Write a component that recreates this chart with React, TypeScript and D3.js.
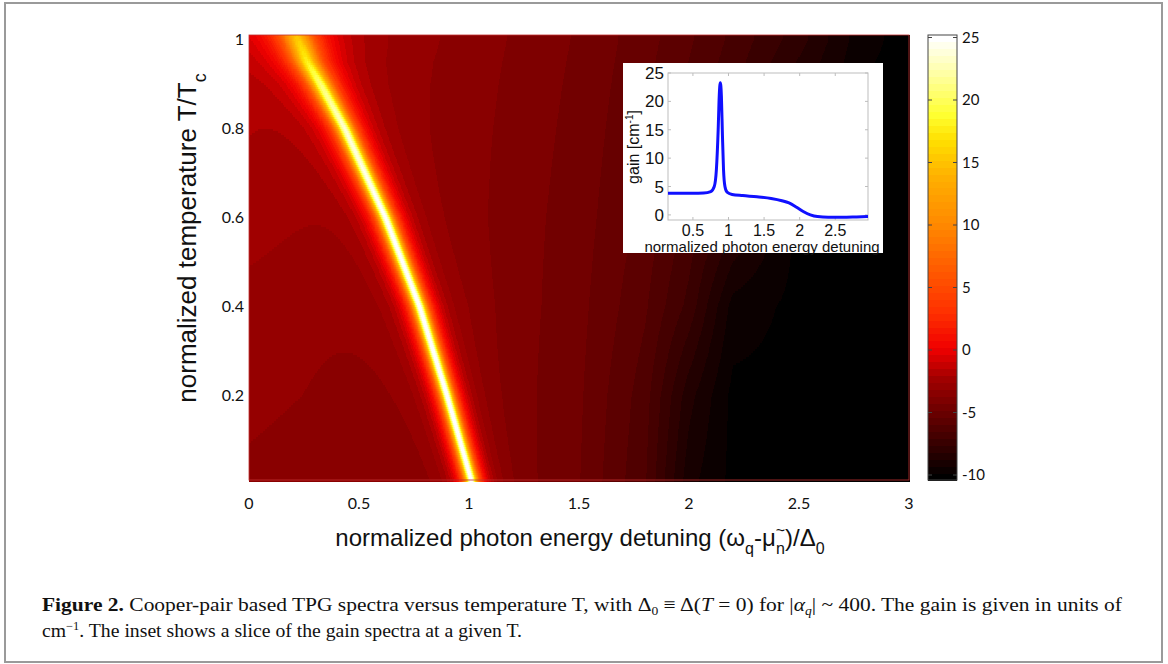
import React, { useEffect, useRef } from "react";
import * as d3 from "d3";

// main map axes
const xTicks = [0, 0.5, 1, 1.5, 2, 2.5, 3];
const yTicks = [0.2, 0.4, 0.6, 0.8, 1];
const cbTicks = [25, 20, 15, 10, 5, 0, -5, -10];

// background gain (rows: T, columns: detuning)
const bgX = [0, 0.5, 1.0, 1.5, 1.8, 2.0, 2.2, 2.5, 2.8, 3.0];
const bgT = [0, 0.2, 0.4, 0.6, 0.8, 1.0];
const bgRows = [
  [-3.5, -3.8, -4.1, -5.1, -6.7, -9.4, -10.3, -10.3, -10.3, -10.3],
  [-3.2, -3.6, -4.0, -5.0, -6.5, -8.8, -10.3, -10.3, -10.3, -10.3],
  [-3.1, -3.5, -3.9, -4.9, -6.1, -7.5, -9.8, -10.3, -10.3, -10.3],
  [-2.5, -3.4, -3.9, -4.8, -5.8, -6.9, -8.2, -10.3, -10.3, -10.3],
  [-2.4, -3.3, -3.8, -4.7, -5.6, -6.5, -7.4, -9.4, -10.3, -10.3],
  [-2.4, -3.2, -3.7, -4.6, -5.4, -6.1, -6.9, -8.2, -10.0, -10.3],
];

// the bright TPG ridge
const ridgeT = [0.01, 0.2, 0.4, 0.6, 0.8, 0.9, 0.95, 1.01];
const ridgeX = [1.01, 0.9, 0.775, 0.62, 0.435, 0.325, 0.265, 0.215];
const ridgeA = [30, 30, 29.5, 29, 27, 24, 21, 18];
const ridgeW = [0.028, 0.029, 0.031, 0.034, 0.04, 0.05, 0.06, 0.075];

// colour map stops (matches the colour bar)
const cmapStops = [-10.4, -2.5, 0, 3, 6, 10, 14, 17, 19, 22, 25.2];
const cmapColors = [
  "#000000", "#a00000", "#f00000", "#ff3000", "#ff5500", "#ff8800",
  "#ffb000", "#ffe000", "#ffff30", "#ffff99", "#ffffff",
];

// inset slice
const insetX = [0.15, 0.3, 0.5, 0.65, 0.75, 0.8, 0.83, 0.855, 0.87, 0.885, 0.9, 0.915, 0.93, 0.95, 0.98, 1.05, 1.2, 1.4, 1.6, 1.75, 1.85, 1.95, 2.05, 2.15, 2.25, 2.4, 2.6, 2.8, 2.96];
const insetY = [3.8, 3.8, 3.8, 3.85, 4.1, 5.0, 8, 15, 21, 23.3, 21, 14, 8, 5.0, 4.0, 3.6, 3.4, 3.2, 2.9, 2.5, 2.1, 1.4, 0.6, 0, -0.3, -0.4, -0.4, -0.35, -0.3];
const insetXTicks = [0.5, 1, 1.5, 2, 2.5];
const insetYTicks = [0, 5, 10, 15, 20, 25];

const W = 1168, H = 664;
const x = d3.scaleLinear().domain([0, 3]).range([249, 909]);
const y = d3.scaleLinear().domain([0.01, 1.01]).range([480, 35]);
const cb = d3.scaleLinear().domain([-10.4, 25.2]).range([480, 35]);
const cmap = d3.scaleLinear<string>().domain(cmapStops).range(cmapColors).interpolate(d3.interpolateRgb);
const NLEV = 64;
const palette = d3.range(NLEV).map(k => cmap(-10.4 + (k / (NLEV - 1)) * 35.6));
const level = (v: number) => Math.max(0, Math.min(NLEV - 1, Math.round(((v + 10.4) / 35.6) * (NLEV - 1))));

const ix = d3.scaleLinear().domain([0.15, 2.96]).range([668, 868]);
const iy = d3.scaleLinear().domain([-0.9, 25]).range([220, 73]);

const sans = "'Liberation Sans', Arial, sans-serif";
const tickFont = "Lato, 'Open Sans', sans-serif";
const serif = "'Liberation Serif', 'Times New Roman', serif";

function HeatMap() {
  const ref = useRef<SVGGElement>(null);
  useEffect(() => {
    const g = d3.select(ref.current);
    g.selectAll("*").remove();
    const rowScales = bgRows.map(r => d3.scaleLinear().domain(bgX).range(r).clamp(true));
    const rc = d3.scaleLinear().domain(ridgeT).range(ridgeX).clamp(true);
    const ra = d3.scaleLinear().domain(ridgeT).range(ridgeA).clamp(true);
    const rw = d3.scaleLinear().domain(ridgeT).range(ridgeW).clamp(true);
    const [x0, x1] = x.range();
    const [yb, yt] = y.range();
    const step = 2;
    const runs: { x: number; y: number; w: number; k: number }[] = [];
    for (let py = yt; py < yb; py += step) {
      const T = y.invert(py + step / 2);
      const vals = rowScales.map(() => 0);
      const c = rc(T), a = ra(T), w = rw(T);
      let start = x0, cur = -1;
      for (let px = x0; px < x1; px++) {
        const xv = x.invert(px + 0.5);
        rowScales.forEach((s, i) => (vals[i] = s(xv)));
        const bg = d3.scaleLinear().domain(bgT).range(vals).clamp(true)(T);
        const u = (xv - c) / w;
        const k = level(bg + a / (1 + u * u));
        if (k !== cur) {
          if (cur >= 0) runs.push({ x: start, y: py, w: px - start, k: cur });
          start = px;
          cur = k;
        }
      }
      runs.push({ x: start, y: py, w: x1 - start, k: cur });
    }
    g.selectAll("rect")
      .data(runs)
      .enter()
      .append("rect")
      .attr("x", d => d.x)
      .attr("y", d => d.y)
      .attr("width", d => d.w + 0.5)
      .attr("height", step + 0.5)
      .attr("fill", d => palette[d.k])
      .attr("shape-rendering", "crispEdges");
  }, []);
  return <g ref={ref} />;
}

function Inset() {
  const line = d3
    .line<number>()
    .x((d, i) => ix(insetX[i]))
    .y(d => iy(d))
    .curve(d3.curveMonotoneX);
  const [l, r] = ix.range();
  const [b, t] = iy.range();
  return (
    <g>
      <rect x={623} y={63} width={260} height={190} fill="#fff" />
      <rect x={l} y={t} width={r - l} height={b - t} fill="#fff" stroke="#bdbdbd" strokeWidth={1} />
      {insetXTicks.map(v => (
        <g key={"ixt" + v}>
          <line x1={ix(v)} x2={ix(v)} y1={b} y2={b - 3} stroke="#bdbdbd" />
          <line x1={ix(v)} x2={ix(v)} y1={t} y2={t + 3} stroke="#bdbdbd" />
          <text x={ix(v)} y={236} textAnchor="middle" fontFamily={sans} fontSize={16} fill="#111">
            {v}
          </text>
        </g>
      ))}
      {insetYTicks.map(v => (
        <g key={"iyt" + v}>
          <line x1={l} x2={l + 3} y1={iy(v)} y2={iy(v)} stroke="#bdbdbd" />
          <line x1={r} x2={r - 3} y1={iy(v)} y2={iy(v)} stroke="#bdbdbd" />
          <text x={664} y={iy(v)} dy="0.36em" textAnchor="end" fontFamily={sans} fontSize={17} fill="#111">
            {v}
          </text>
        </g>
      ))}
      <path d={line(insetY) || ""} fill="none" stroke="#1010ff" strokeWidth={3} strokeLinejoin="round" />
      <text x={762} y={252} textAnchor="middle" fontFamily={sans} fontSize={15} fill="#111">
        normalized photon energy detuning
      </text>
      <text transform="translate(639,147) rotate(-90)" textAnchor="middle" fontFamily={sans} fontSize={16} fill="#111">
        gain [cm
        <tspan dy={-6} fontSize={10}>-1</tspan>
        <tspan dy={6}>]</tspan>
      </text>
    </g>
  );
}

function ColorBar() {
  const [b, t] = cb.range();
  const lv = d3.range(NLEV);
  const h = (b - t) / NLEV;
  return (
    <g>
      {lv.map(k => (
        <rect key={k} x={928} y={b - (k + 1) * h} width={29} height={h + 0.5} fill={palette[k]} shapeRendering="crispEdges" />
      ))}
      <rect x={928} y={t} width={29} height={b - t} fill="none" stroke="#444" strokeWidth={1} />
      {cbTicks.map(v => (
        <g key={"cb" + v}>
          <line x1={957} x2={953} y1={cb(v)} y2={cb(v)} stroke="#444" />
          <line x1={928} x2={932} y1={cb(v)} y2={cb(v)} stroke="#444" />
          <text x={962} y={cb(v)} dy="0.36em" fontFamily={tickFont} fontSize={15} fill="#111">
            {v}
          </text>
        </g>
      ))}
    </g>
  );
}

export default function App() {
  return (
    <svg width={W} height={H} style={{ position: "absolute", left: 0, top: 0 }}>
      <rect x={5} y={3} width={1157} height={659} fill="#fff" stroke="#9a9a9a" strokeWidth={2} />
      <HeatMap />
      <rect x={249} y={35} width={660} height={445} fill="none" stroke="#c03030" strokeWidth={0.8} />
      {xTicks.map(v => (
        <text key={"xt" + v} x={x(v)} y={509} textAnchor="middle" fontFamily={tickFont} fontSize={16} fill="#111">
          {v}
        </text>
      ))}
      {yTicks.map(v => (
        <text key={"yt" + v} x={244} y={y(v)} dy="0.36em" textAnchor="end" fontFamily={tickFont} fontSize={16} fill="#111">
          {v}
        </text>
      ))}
      <text x={580} y={546} textAnchor="middle" fontFamily={sans} fontSize={24} fill="#111">
        normalized photon energy detuning (ω
        <tspan dy={8} fontSize={16}>q</tspan>
        <tspan dy={-8}>-μ</tspan>
        <tspan dy={-10} fontSize={16}>~</tspan>
        <tspan dx={-9} dy={18} fontSize={16}>n</tspan>
        <tspan dy={-8}>)/Δ</tspan>
        <tspan dy={8} fontSize={16}>0</tspan>
      </text>
      <text transform="translate(196,238) rotate(-90)" textAnchor="middle" fontFamily={sans} fontSize={26} fill="#111">
        normalized temperature T/T
        <tspan dy={10} fontSize={18}>c</tspan>
      </text>
      <Inset />
      <ColorBar />
      <text x={42} y={611} fontFamily={serif} fontSize={19} fill="#111" textLength={1080} lengthAdjust="spacingAndGlyphs">
        <tspan fontWeight="bold">Figure 2.</tspan> Cooper-pair based TPG spectra versus temperature T, with Δ
        <tspan dy={4} fontSize={12}>0</tspan>
        <tspan dy={-4}> ≡ Δ(</tspan>
        <tspan fontStyle="italic">T</tspan> = 0) for |<tspan fontStyle="italic">α</tspan>
        <tspan dy={4} fontSize={12} fontStyle="italic">q</tspan>
        <tspan dy={-4}>|  ~  400. The gain is given in units of</tspan>
      </text>
      <text x={42} y={637} fontFamily={serif} fontSize={19} fill="#111" textLength={480} lengthAdjust="spacingAndGlyphs">
        cm
        <tspan dy={-7} fontSize={12}>−1</tspan>
        <tspan dy={7}>. The inset shows a slice of the gain spectra at a given T.</tspan>
      </text>
    </svg>
  );
}
